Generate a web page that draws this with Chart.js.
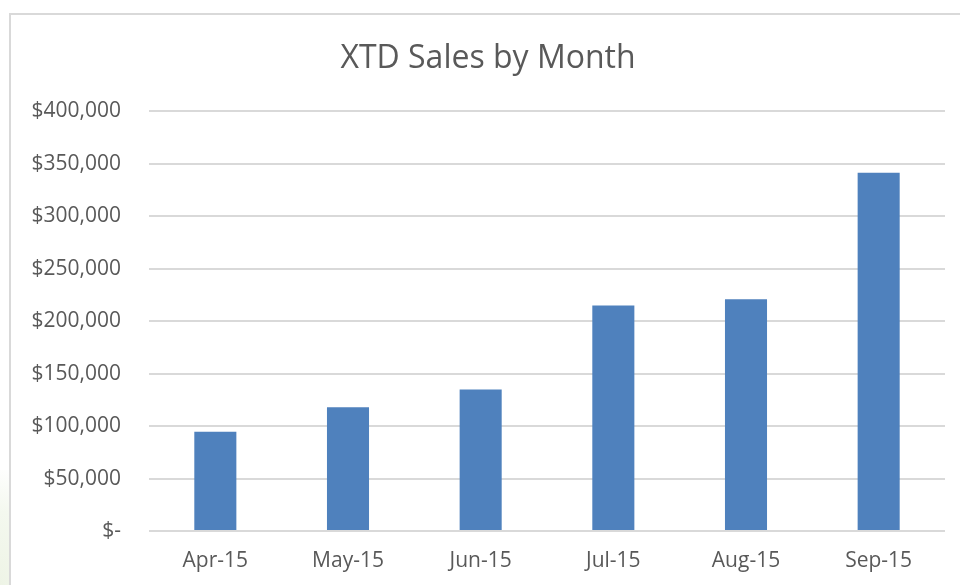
<!DOCTYPE html>
<html>
<head>
<meta charset="utf-8">
<title>XTD Sales by Month</title>
<script src="https://cdn.jsdelivr.net/npm/chart.js@4/dist/chart.umd.min.js"></script>
<style>
    html, body {
        margin: 0;
        padding: 0;
        width: 960px;
        height: 585px;
        overflow: hidden;
        background: #ffffff;
    }
    /* faint green tint showing behind the chart in the lower left corner */
    .tint {
        position: absolute;
        left: 0;
        top: 470px;
        width: 60px;
        height: 115px;
        background: radial-gradient(ellipse at 0% 100%, #eef4e6 0%, #f4f8ef 45%, rgba(255, 255, 255, 0) 75%);
    }
    .frame {
        position: absolute;
        left: 9px;
        top: 13px;
        width: 980px;
        height: 620px;
        border: 2px solid #d9d9d9;
        background: #ffffff;
    }
    .wrap {
        position: absolute;
        left: 0;
        top: 0;
        width: 960px;
        height: 585px;
    }
</style>
</head>
<body>
<div class="tint"></div>
<div class="frame"></div>
<div class="wrap"><canvas id="chart" width="960" height="585"></canvas></div>
<script>
// values
const months = ["Apr-15", "May-15", "Jun-15", "Jul-15", "Aug-15", "Sep-15"];
const sales = [94500, 118000, 135000, 215000, 221000, 341500];
const yTicks = [0, 50000, 100000, 150000, 200000, 250000, 300000, 350000, 400000];

const TEXT_COLOR = "#595959";
const GRID_COLOR = "#d9d9d9";
const BAR_COLOR = "#4f81bd";

function formatMoney(v) {
    if (v === 0) {
        return "$-";
    }
    return "$" + v.toLocaleString("en-US");
}

const ctx = document.getElementById("chart");
new Chart(ctx, {
    type: "bar",
    data: {
        labels: months,
        datasets: [
            {
                label: "XTD Sales",
                data: sales,
                backgroundColor: BAR_COLOR,
                borderWidth: 0,
                barPercentage: 0.317,
                categoryPercentage: 1.0,
            },
        ],
    },
    options: {
        responsive: false,
        animation: false,
        devicePixelRatio: 1,
        layout: {
            // left padding only shifts the centred title, the y axis width makes up for it
            padding: { left: 31, right: 15, top: 0, bottom: 0 },
        },
        plugins: {
            legend: { display: false },
            tooltip: { enabled: false },
            title: {
                display: true,
                text: "XTD Sales by Month",
                color: TEXT_COLOR,
                font: { family: "Open Sans", size: 32, weight: "normal", lineHeight: 1.2 },
                padding: { top: 40, bottom: 33 },
            },
        },
        scales: {
            x: {
                grid: { display: false, drawTicks: false },
                border: { display: false },
                ticks: {
                    color: TEXT_COLOR,
                    font: { family: "Open Sans", size: 21 },
                    padding: 17,
                    maxRotation: 0,
                },
                afterFit: (scale) => {
                    scale.height = 54;
                },
            },
            y: {
                min: 0,
                max: 400000,
                grid: { color: GRID_COLOR, lineWidth: 2, drawTicks: false },
                border: { display: false },
                afterBuildTicks: (scale) => {
                    scale.ticks = yTicks.map((v) => ({ value: v }));
                },
                ticks: {
                    color: TEXT_COLOR,
                    font: { family: "Open Sans", size: 21 },
                    padding: 28,
                    callback: (v) => formatMoney(v),
                },
                afterFit: (scale) => {
                    scale.width = 118;
                },
            },
        },
    },
});
</script>
</body>
</html>
